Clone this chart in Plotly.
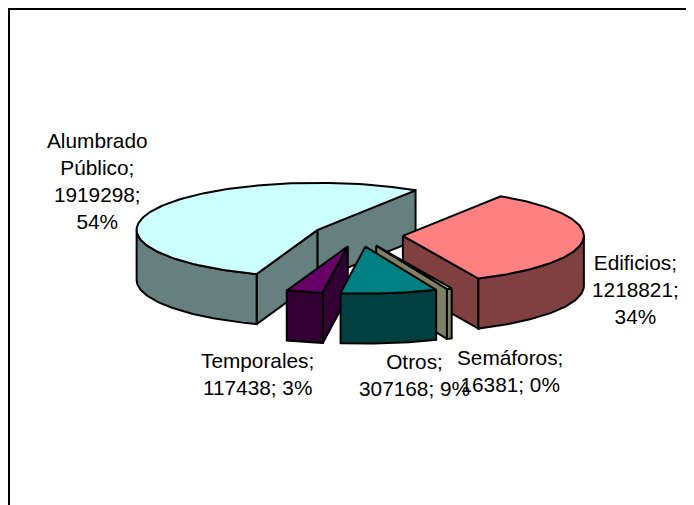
import numpy as np
import plotly.graph_objects as go

names = ["Alumbrado Público", "Edificios", "Semáforos", "Otros", "Temporales"]
values = [1919298, 1218821, 16381, 307168, 117438]
top_colors = ["#CCFFFF", "#FF8080", "#FFFFCC", "#008080", "#660066"]
side_colors = ["#668080", "#804040", "#808066", "#004040", "#330033"]
labels = [
    "Alumbrado<br>Público;<br>1919298;<br>54%",
    "Edificios;<br>1218821;<br>34%",
    "Semáforos;<br>16381; 0%",
    "Otros;<br>307168; 9%",
    "Temporales;<br>117438; 3%",
]
label_x = [97, 635, 510, 414, 257]
label_y = [181, 289.5, 370.5, 375, 374]
draw_order = [0, 1, 2, 4, 3]
nudge_x = [0, 0, 0, 1.5, 0.5]

START = 199.7
CX, CY = 358, 235
RX, RY = 181, 47
DEPTH = 50
EXPLODE = 45

total = sum(values)
sweeps = [v / total * 360 for v in values]
starts = START + np.concatenate([[0], np.cumsum(sweeps)[:-1]])

fig = go.Figure()


def face(xs, ys, color):
    fig.add_trace(go.Scatter(
        x=list(xs) + [xs[0]], y=list(ys) + [ys[0]], mode="lines", fill="toself",
        fillcolor=color, line=dict(color="black", width=2),
        hoverinfo="skip", showlegend=False))


for i in draw_order:
    a0, a1 = starts[i], starts[i] + sweeps[i]
    mid = np.radians((a0 + a1) / 2)
    ax = CX + EXPLODE * np.sin(mid) + nudge_x[i]
    ay = CY - EXPLODE * np.cos(mid) * RY / RX

    def rim(t):
        t = np.radians(t)
        return ax + RX * np.sin(t), ay - RY * np.cos(t)

    # flat cut faces that look towards the viewer
    for ang, vis in ((a0, -np.sin(np.radians(a0)) > 0), (a1, np.sin(np.radians(a1)) > 0)):
        if vis:
            px, py = rim(ang)
            face([ax, px, px, ax], [ay, py, py + DEPTH, ay + DEPTH], side_colors[i])

    # outer wall, front half of the ellipse only
    for shift in (0, 360, -360):
        lo = max(a0, 90 + shift)
        hi = min(a1, 270 + shift)
        if hi > lo:
            ts = np.linspace(lo, hi, 60)
            xs, ys = rim(ts)
            face(np.concatenate([xs, xs[::-1]]),
                 np.concatenate([ys, ys[::-1] + DEPTH]), side_colors[i])

    # top
    ts = np.linspace(a0, a1, 160)
    xs, ys = rim(ts)
    face(np.concatenate([[ax], xs]), np.concatenate([[ay], ys]), top_colors[i])

for text, x, y in zip(labels, label_x, label_y):
    fig.add_annotation(x=x, y=y, xref="x", yref="y", text=text, showarrow=False,
                       xanchor="center", yanchor="middle", align="center",
                       font=dict(family="Liberation Sans, Arial, sans-serif", size=20.8, color="black"))

# the page keeps an 8 px body margin, so the figure is 8 px smaller on each leading edge
fig.update_layout(
    width=686, height=497, autosize=False,
    margin=dict(l=2, r=0, t=2, b=0),
    paper_bgcolor="white", plot_bgcolor="white",
    showlegend=False,
    xaxis=dict(range=[10, 694], side="top", showline=True, linecolor="black", linewidth=1.5,
               showgrid=False, zeroline=False, ticks="", showticklabels=False, fixedrange=True),
    yaxis=dict(range=[505, 10], side="left", showline=True, linecolor="black", linewidth=1.5,
               showgrid=False, zeroline=False, ticks="", showticklabels=False, fixedrange=True),
)
fig.write_html("out.html", config=dict(displayModeBar=False))
